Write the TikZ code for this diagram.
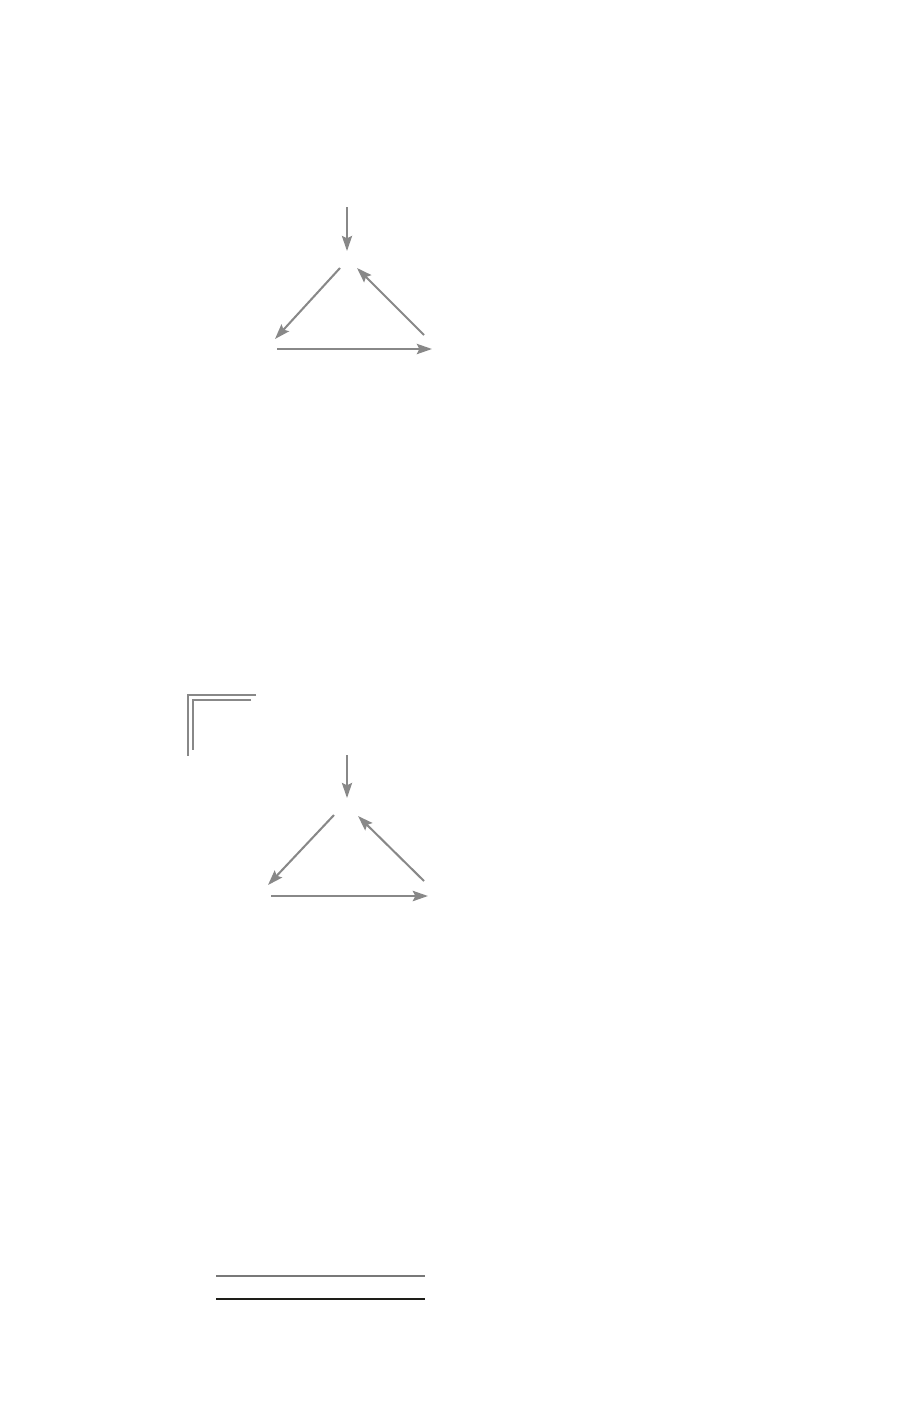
\documentclass[tikz,border=0pt]{standalone}
\usepackage{amsmath}
\usepackage{amsfonts}
\usetikzlibrary{arrows.meta}

\definecolor{arrowgray}{RGB}{136,136,136}
\definecolor{rulegray}{RGB}{120,120,120}
\definecolor{ruledark}{RGB}{30,30,25}

\tikzset{
    maparrow/.style={draw=arrowgray, line width=0.58pt,
        -{Stealth[length=4.3pt, width=2.9pt, inset=0.7pt]}},
    cornerline/.style={draw=arrowgray, line width=0.45pt},
}

\begin{document}
\begin{tikzpicture}[x=0.01cm, y=-0.01cm]
        \useasboundingbox (0,0) rectangle (920,1406);
        % upper triangle
        \coordinate (atop) at (347,207);
        \coordinate (atip) at (347,251);
        \coordinate (al1) at (340,268);
        \coordinate (al2) at (275,339);
        \coordinate (ar1) at (424,335);
        \coordinate (ar2) at (357,268);
        \coordinate (ab1) at (277,349);
        \coordinate (ab2) at (432,349);
        \draw[maparrow] (atop) -- (atip);
        \draw[maparrow] (al1) -- (al2);
        \draw[maparrow] (ar1) -- (ar2);
        \draw[maparrow, line width=0.7pt] (ab1) -- (ab2);
        % corner mark
        \coordinate (co1) at (256,695);
        \coordinate (co2) at (188,695);
        \coordinate (co3) at (188,756);
        \coordinate (ci1) at (251,700);
        \coordinate (ci2) at (193,700);
        \coordinate (ci3) at (193,750);
        \draw[cornerline] (co1) -- (co2) -- (co3);
        \draw[cornerline] (ci1) -- (ci2) -- (ci3);
        % lower triangle
        \coordinate (btop) at (347,755);
        \coordinate (btip) at (347,798);
        \coordinate (bl1) at (334,815);
        \coordinate (bl2) at (268,885);
        \coordinate (br1) at (424,881);
        \coordinate (br2) at (358,816);
        \coordinate (bb1) at (271,896);
        \coordinate (bb2) at (428,896);
        \draw[maparrow] (btop) -- (btip);
        \draw[maparrow] (bl1) -- (bl2);
        \draw[maparrow] (br1) -- (br2);
        \draw[maparrow, line width=0.75pt] (bb1) -- (bb2);
        % rules at the bottom
        \coordinate (r1a) at (216,1276);
        \coordinate (r1b) at (425,1276);
        \coordinate (r2a) at (216,1299);
        \coordinate (r2b) at (425,1299);
        \draw[rulegray, line width=0.4pt] (r1a) -- (r1b);
        \draw[ruledark, line width=0.35pt] (r2a) -- (r2b);
    \end{tikzpicture}
\end{document}
